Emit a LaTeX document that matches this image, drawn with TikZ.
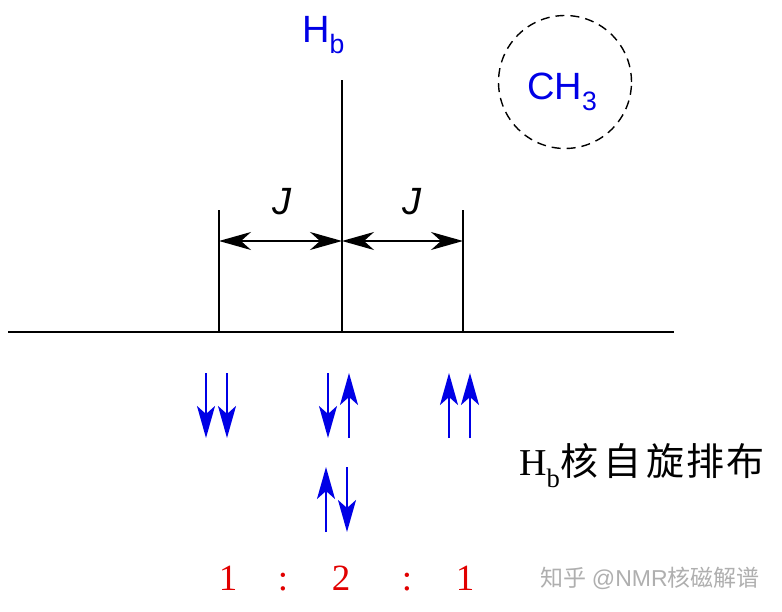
\documentclass[tikz,border=0pt]{standalone}
\usepackage{fontspec}
\setmainfont{Liberation Serif}
\setsansfont{Liberation Sans}
\newfontfamily\cjk{Noto Sans CJK SC}
\usetikzlibrary{arrows.meta}
\definecolor{spinblue}{RGB}{0,0,230}
\definecolor{ratiored}{RGB}{225,0,0}
\definecolor{wmgray}{RGB}{175,175,175}
\tikzset{
  axisline/.style={line width=1.8pt, black},
  dimarrow/.style={line width=1.5pt, black, {Stealth[length=32pt,width=18pt,inset=10pt]}-{Stealth[length=32pt,width=18pt,inset=10pt]}},
  spin/.style={line width=2.3pt, spinblue, -{Stealth[length=32pt,width=18pt,inset=8pt]}},
  jlabel/.style={font=\sffamily\itshape\fontsize{38}{38}\selectfont, inner sep=0pt},
  bluelabel/.style={font=\sffamily\fontsize{38}{38}\selectfont, text=spinblue, inner sep=0pt},
  ratio/.style={font=\rmfamily\fontsize{37}{37}\selectfont, text=ratiored, inner sep=0pt, anchor=base},
}
\begin{document}
\begin{tikzpicture}[x=1pt,y=-1pt]
\useasboundingbox (0,0) rectangle (782,612);
% baseline
\coordinate (bl) at (8,332);
\coordinate (br) at (674,332);
\draw[axisline] (bl) -- (br);
% peaks
\coordinate (c0) at (342,332); \coordinate (c1) at (342,80);
\coordinate (l0) at (219,332); \coordinate (l1) at (219,210);
\coordinate (r0) at (463,332); \coordinate (r1) at (463,210);
\draw[axisline] (c0) -- (c1);
\draw[axisline] (l0) -- (l1);
\draw[axisline] (r0) -- (r1);
% J dimensions
\coordinate (la) at (219,241); \coordinate (ma) at (342,241); \coordinate (ra) at (463,241);
\draw[dimarrow] (la) -- (ma);
\draw[dimarrow] (ma) -- (ra);
\node[jlabel] (J1) at (282,202) {J};
\node[jlabel] (J2) at (412,202) {J};
% H_b label
\node[bluelabel, anchor=base west] (Hb) at (302,43) {H\textsubscript{b}};
% CH3 circle
\node[draw, dashed, dash pattern=on 9pt off 6pt, line width=1.4pt, circle, minimum size=133pt, inner sep=0pt] (ring) at (565,82) {};
\node[bluelabel, anchor=base west] (ch3) at (527,100) {CH\textsubscript{3}};
% spin arrows
\coordinate (s1t) at (206,373); \coordinate (s1b) at (206,438);
\coordinate (s2t) at (227,373); \coordinate (s2b) at (227,438);
\coordinate (s3t) at (328,373); \coordinate (s3b) at (328,438);
\coordinate (s4t) at (349,373); \coordinate (s4b) at (349,438);
\coordinate (s5t) at (449,373); \coordinate (s5b) at (449,438);
\coordinate (s6t) at (470,373); \coordinate (s6b) at (470,438);
\coordinate (s7t) at (326,467); \coordinate (s7b) at (326,532);
\coordinate (s8t) at (347,467); \coordinate (s8b) at (347,532);
\draw[spin] (s1t) -- (s1b);
\draw[spin] (s2t) -- (s2b);
\draw[spin] (s3t) -- (s3b);
\draw[spin] (s4b) -- (s4t);
\draw[spin] (s5b) -- (s5t);
\draw[spin] (s6b) -- (s6t);
\draw[spin] (s7b) -- (s7t);
\draw[spin] (s8t) -- (s8b);
% caption
\node[anchor=base west, inner sep=0pt, font=\rmfamily\fontsize{38}{38}\selectfont] (cap) at (519,475)
  {H\raisebox{-3pt}{\textsubscript{b}}{\cjk\fontsize{38}{38}\selectfont 核\hspace{5pt}自\hspace{5pt}旋\hspace{2pt}排\hspace{2pt}布}};
% ratio
\node[ratio] (r1n) at (228,590) {1};
\node[ratio] (k1) at (283,590) {:};
\node[ratio] (r2n) at (341,590) {2};
\node[ratio] (k2) at (407,590) {:};
\node[ratio] (r3n) at (465,590) {1};
% watermark
\node[anchor=base west, inner sep=0pt, text=wmgray, font=\fontsize{23}{23}\selectfont] (wm) at (540,586)
  {{\cjk 知乎} {\sffamily @NMR}{\cjk 核磁解谱}};
\end{tikzpicture}
\end{document}
